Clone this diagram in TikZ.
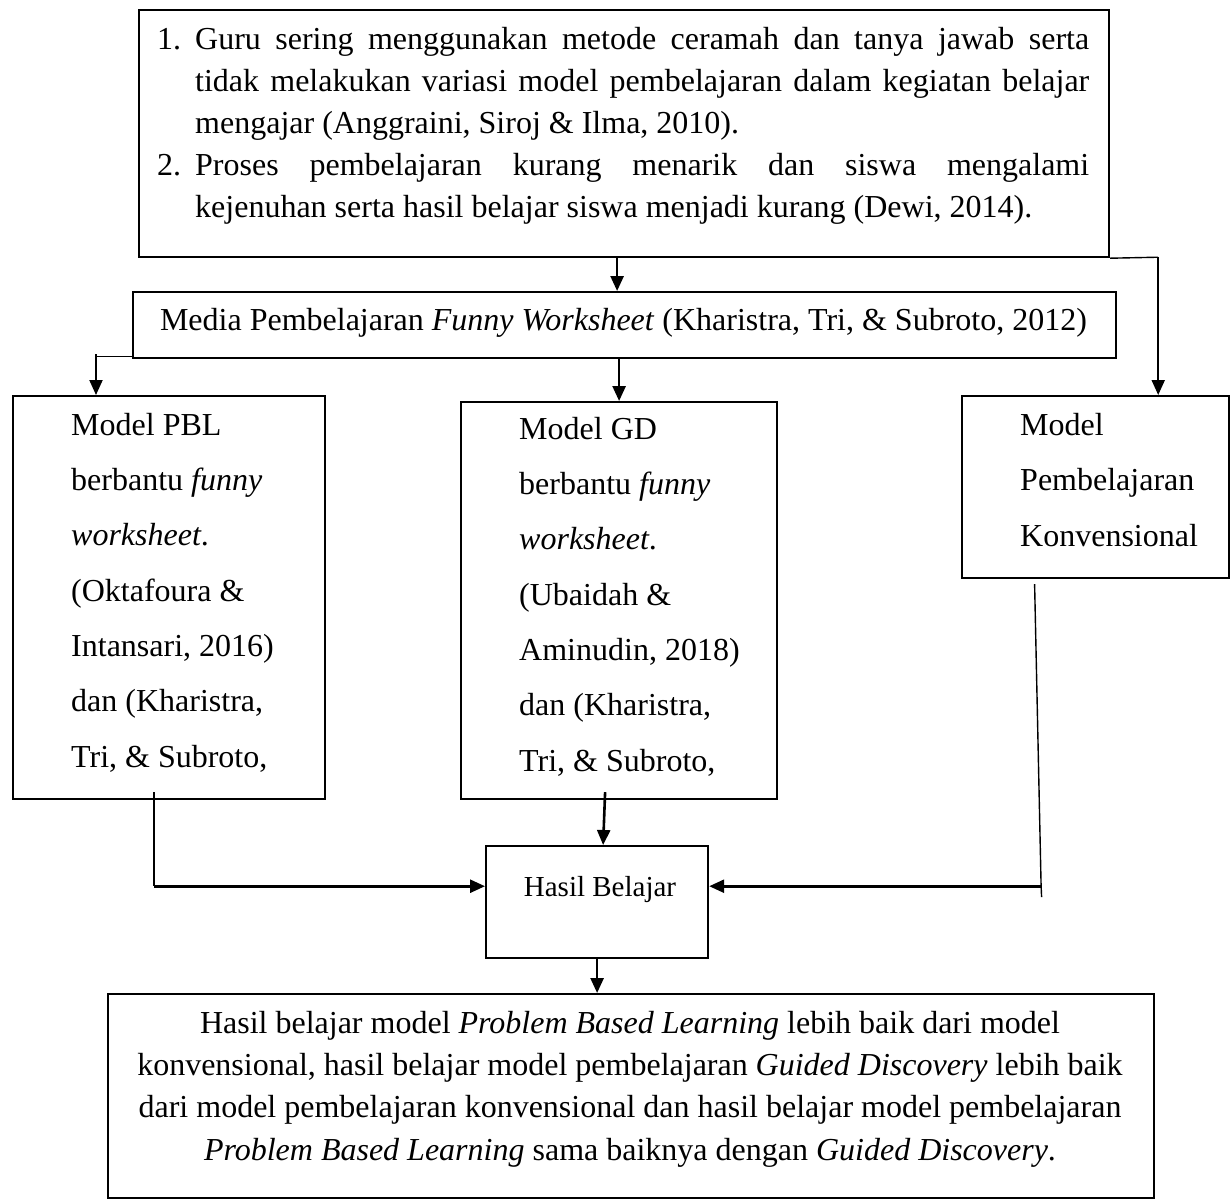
\documentclass[tikz,border=0pt]{standalone}
\usepackage{fontspec}
\setmainfont{Liberation Serif}
\usetikzlibrary{arrows.meta,positioning,calc}

\newcommand{\jline}[1]{\makebox[894pt][s]{#1}}
\newcommand{\itemno}[1]{\makebox[38pt][l]{#1}}

\begin{document}
\begin{tikzpicture}[
        x=1pt, y=-1pt,
        >={Triangle[length=15pt,width=13pt]},
        % Style untuk kotak dan teks (teks diletakkan pada baris terakhirnya)
        boxnode/.style={rectangle, draw, line width=2.2pt, inner sep=0pt, anchor=north west},
        txt/.style={inner sep=0pt, anchor=base west, align=left, font=\fontsize{32}{55.3}\selectfont},
        arrowline/.style={->, line width=2.6pt},
        thinline/.style={line width=1.4pt}
    ]
        \useasboundingbox (0,0) rectangle (1230,1200);

        % Kotak
        \node[boxnode, minimum width=970pt, minimum height=247pt] (problem) at (138,9) {};
        \node[boxnode, minimum width=983pt, minimum height=66pt] (media) at (132,291) {};
        \node[boxnode, minimum width=312pt, minimum height=403pt] (pbl) at (12,395) {};
        \node[boxnode, minimum width=316pt, minimum height=397pt] (gd) at (460,401) {};
        \node[boxnode, minimum width=267pt, minimum height=182pt] (konv) at (961,395) {};
        \node[boxnode, minimum width=222pt, minimum height=112pt] (hasil) at (485,845) {};
        \node[boxnode, minimum width=1046pt, minimum height=204pt] (result) at (107,993) {};

        % Teks
        \node[txt, font=\fontsize{32}{41.8}\selectfont] (problemtext) at (157,217) {%
            \itemno{1.}\jline{Guru sering menggunakan metode ceramah dan tanya jawab serta}\\
            \hspace*{38pt}\jline{tidak melakukan variasi model pembelajaran dalam kegiatan belajar}\\
            \hspace*{38pt}mengajar (Anggraini, Siroj \& Ilma, 2010).\\
            \itemno{2.}\jline{Proses pembelajaran kurang menarik dan siswa mengalami}\\
            \hspace*{38pt}kejenuhan serta hasil belajar siswa menjadi kurang (Dewi, 2014).};
        \node[txt, anchor=base] (mediatext) at (623.5,330) {Media Pembelajaran \textit{Funny Worksheet} (Kharistra, Tri, \& Subroto, 2012)};
        \node[txt] (pbltext) at (71,767) {Model PBL\\ berbantu \textit{funny}\\ \textit{worksheet}.\\ (Oktafoura \&\\ Intansari, 2016)\\ dan (Kharistra,\\ Tri, \& Subroto,};
        \node[txt] (gdtext) at (519,771) {Model GD\\ berbantu \textit{funny}\\ \textit{worksheet}.\\ (Ubaidah \&\\ Aminudin, 2018)\\ dan (Kharistra,\\ Tri, \& Subroto,};
        \node[txt] (konvtext) at (1020,546) {Model\\ Pembelajaran\\ Konvensional};
        \node[txt, anchor=base, font=\fontsize{29}{35}\selectfont] (hasiltext) at (600,896) {Hasil Belajar};
        \node[txt, anchor=base, align=center, font=\fontsize{32}{42.3}\selectfont] (resulttext) at (630,1160) {Hasil belajar model \textit{Problem Based Learning} lebih baik dari model\\ konvensional, hasil belajar model pembelajaran \textit{Guided Discovery} lebih baik\\ dari model pembelajaran konvensional dan hasil belajar model pembelajaran\\ \textit{Problem Based Learning} sama baiknya dengan \textit{Guided Discovery}.};

        % Panah
        \draw[arrowline] ([xshift=-7pt]problem.south) -- ([xshift=-7pt]problem.south |- media.north);
        \draw[thinline] (problem.south east) -- ++(48,-1) coordinate (rightbend);
        \draw[arrowline, line width=2pt] (rightbend) -- (rightbend |- konv.north);
        \draw[thinline] ([yshift=3pt]media.south west) -- ++(-36,0) coordinate (leftbend);
        \draw[arrowline, line width=2pt] ([yshift=2pt]leftbend) -- (leftbend |- pbl.north);
        \draw[arrowline] (media.south -| gd.north) -- (gd.north);

        % Menuju hasil belajar
        \draw[thinline] ([xshift=-15pt,yshift=8pt]pbl.south) -- ++(0,94) coordinate (pblout);
        \draw[arrowline] (pblout) -- (pblout -| hasil.west);
        \draw[arrowline] ([xshift=-14pt,yshift=8pt]gd.south) -- ([xshift=6pt]hasil.north);
        \draw[thinline] ([xshift=-61pt,yshift=-5pt]konv.south) -- ++(6.5,302) coordinate (konvout) -- ++(0.5,11);
        \draw[arrowline] (konvout) -- (konvout -| hasil.east);
        \draw[arrowline] (hasil.south) -- (hasil.south |- result.north);

    \end{tikzpicture}
\end{document}
